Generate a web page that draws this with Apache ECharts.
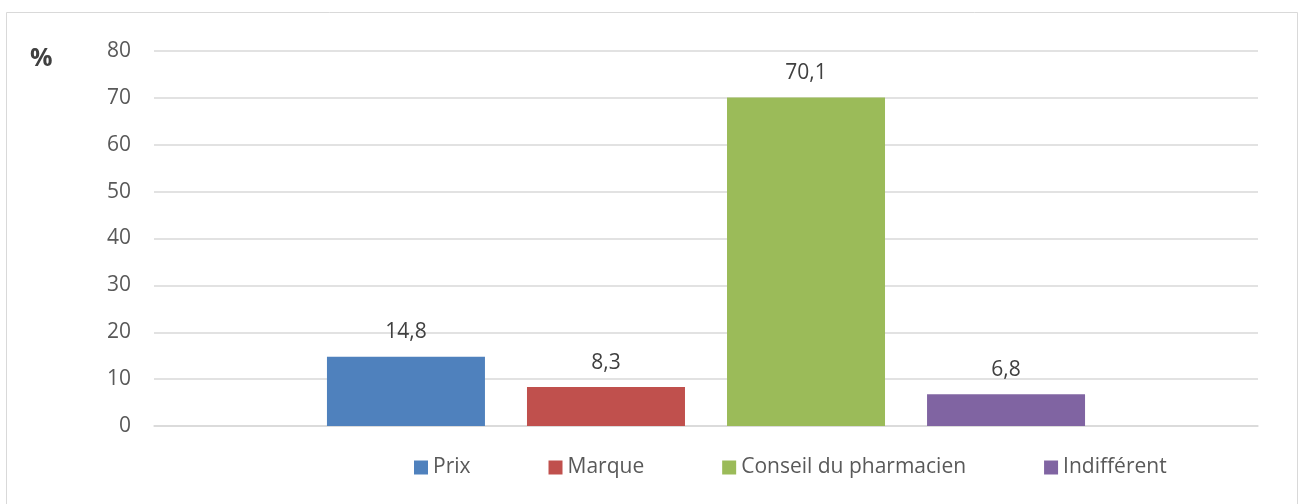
<!DOCTYPE html>
<html>
<head>
<meta charset="utf-8">
<script src="https://cdn.jsdelivr.net/npm/echarts@6/dist/echarts.min.js"></script>
<style>
html,body{margin:0;padding:0;background:#fff;}
#chart{width:1304px;height:504px;}
</style>
</head>
<body>
<div id="chart"></div>
<script>
const seriesNames = ['Prix', 'Marque', 'Conseil du pharmacien', 'Indifférent'];
const seriesValues = [14.8, 8.3, 70.1, 6.8];
const seriesColors = ['#4f81bd', '#c0504d', '#9bbb59', '#8064a2'];
const categories = [''];
const yTicks = { min: 0, max: 80, interval: 10 };

const FONT = '"Open Sans", sans-serif';
const chart = echarts.init(document.getElementById('chart'), null, { renderer: 'canvas' });

const series = seriesNames.map((name, i) => ({
  name: name,
  type: 'bar',
  data: [seriesValues[i]],
  barWidth: 158,
  barGap: '26.6%',
  itemStyle: { color: seriesColors[i] },
  label: {
    show: true,
    position: 'top',
    distance: 14,
    color: '#404040',
    fontFamily: FONT,
    fontSize: 21,
    formatter: p => String(p.value).replace('.', ',')
  }
}));

chart.setOption({
  animation: false,
  backgroundColor: '#fff',
  grid: { left: 154, right: 46, top: 51, bottom: 78, containLabel: false },
  legend: {
    data: seriesNames,
    bottom: 26,
    left: 414,
    padding: 0,
    itemWidth: 14,
    itemHeight: 14,
    itemGap: 78,
    icon: 'rect',
    textStyle: { color: '#595959', fontFamily: FONT, fontSize: 21 }
  },
  xAxis: {
    type: 'category',
    data: categories,
    axisLine: { lineStyle: { color: '#d9d9d9', width: 1.5 } },
    axisTick: { show: false },
    axisLabel: { show: false }
  },
  yAxis: {
    type: 'value',
    min: yTicks.min,
    max: yTicks.max,
    interval: yTicks.interval,
    axisLine: { show: false },
    axisTick: { show: false },
    axisLabel: { color: '#595959', fontFamily: FONT, fontSize: 21, margin: 23 },
    splitLine: { lineStyle: { color: '#d9d9d9', width: 1.5 } }
  },
  graphic: [
    { type: 'rect', shape: { x: 6.5, y: 12.5, width: 1291, height: 500 }, style: { fill: 'none', stroke: '#d9d9d9', lineWidth: 1 }, silent: true },
    { type: 'text', left: 30, top: 46, style: { text: '%', fill: '#404040', font: 'bold 25px ' + FONT } }
  ],
  series: series
});
</script>
</body>
</html>
